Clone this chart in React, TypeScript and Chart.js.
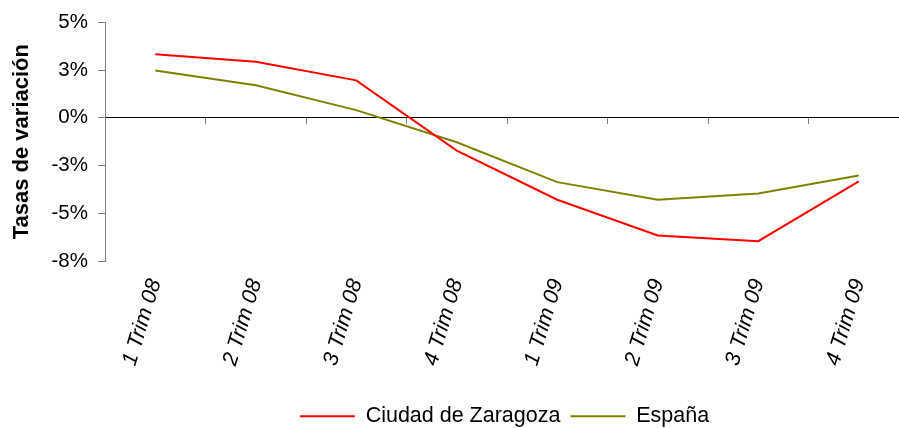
import React, { useEffect, useRef } from "react";
import { Chart, registerables } from "chart.js";

Chart.register(...registerables);

const categories = ["1 Trim 08", "2 Trim 08", "3 Trim 08", "4 Trim 08", "1 Trim 09", "2 Trim 09", "3 Trim 09", "4 Trim 09"];
const zaragoza = [3.33, 2.93, 1.96, -1.72, -4.29, -6.16, -6.46, -3.33];
const espana = [2.48, 1.7, 0.4, -1.28, -3.37, -4.29, -3.97, -3.02];
const seriesNames = ["Ciudad de Zaragoza", "España"];
const yAxisTitle = "Tasas de variación";
const yMin = -7.5;
const yMax = 5;
const yStep = 2.5;

const FONT = "'Liberation Sans', Arial, sans-serif";
const LEGEND_SHIFT = 50;

function excelRound(v: number): number {
  return Math.sign(v) * Math.round(Math.abs(v));
}

const shiftLegend = {
  id: "shiftLegend",
  afterLayout(chart: any) {
    const lg = chart.legend;
    if (lg) {
      lg.left += LEGEND_SHIFT;
      lg.right += LEGEND_SHIFT;
    }
  },
};

export default function App() {
  const ref = useRef<HTMLCanvasElement | null>(null);

  useEffect(() => {
    if (!ref.current) return;
    const chart = new Chart(ref.current, {
      type: "line",
      data: {
        labels: categories,
        datasets: [
          {
            label: seriesNames[0],
            data: zaragoza,
            borderColor: "#FF0000",
            backgroundColor: "#FF0000",
            borderWidth: 2,
            pointRadius: 0,
            tension: 0,
          },
          {
            label: seriesNames[1],
            data: espana,
            borderColor: "#808000",
            backgroundColor: "#808000",
            borderWidth: 2,
            pointRadius: 0,
            tension: 0,
          },
        ],
      },
      plugins: [shiftLegend],
      options: {
        responsive: false,
        animation: false,
        devicePixelRatio: 1,
        layout: { padding: { top: 21, right: 101, left: 0, bottom: 0 } },
        plugins: {
          tooltip: { enabled: false },
          legend: {
            position: "bottom",
            labels: {
              boxWidth: 55,
              boxHeight: 2,
              padding: 10,
              color: "#000",
              font: { family: FONT, size: 21.5 },
              generateLabels: (c: any) =>
                (Chart.defaults.plugins.legend.labels as any)
                  .generateLabels(c)
                  .map((it: any) => ({ ...it, lineWidth: 0 })),
            },
          },
        },
        scales: {
          x: {
            type: "category",
            offset: true,
            grid: { display: false, drawTicks: false },
            border: { display: false },
            ticks: {
              color: "#000",
              font: { family: FONT, size: 21.5, style: "italic" },
              minRotation: 73,
              maxRotation: 73,
              padding: 15,
              autoSkip: false,
            },
            afterFit: (s: any) => {
              s.height = 134.5;
            },
          },
          x2: {
            type: "category",
            position: { y: 0 } as any,
            offset: true,
            grid: {
              offset: true,
              drawOnChartArea: false,
              drawTicks: true,
              tickLength: 6,
              color: "#808080",
              lineWidth: 1,
            },
            border: { display: true, color: "#000", width: 1 },
            ticks: { display: false },
          },
          y: {
            type: "linear",
            min: yMin,
            max: yMax,
            position: "left",
            grid: {
              drawOnChartArea: false,
              drawTicks: true,
              tickLength: 7,
              color: "#808080",
            },
            border: { display: true, color: "#808080", width: 1 },
            ticks: {
              stepSize: yStep,
              color: "#000",
              padding: 10,
              font: { family: FONT, size: 20.5 },
              callback: (v: any) => excelRound(Number(v)) + "%",
            },
            title: {
              display: true,
              text: yAxisTitle,
              color: "#000",
              font: { family: FONT, size: 22, weight: "bold" },
              padding: { top: 9, bottom: 0 },
            },
            afterFit: (s: any) => {
              s.width = 105;
            },
          },
        },
      },
    });
    return () => chart.destroy();
  }, []);

  return (
    <div
      style={{
        position: "absolute",
        left: 0,
        top: 0,
        width: 899,
        height: 428,
        overflow: "hidden",
        background: "#fff",
      }}
    >
      <canvas ref={ref} width={1010} height={437} style={{ width: 1010, height: 437, display: "block" }} />
    </div>
  );
}
